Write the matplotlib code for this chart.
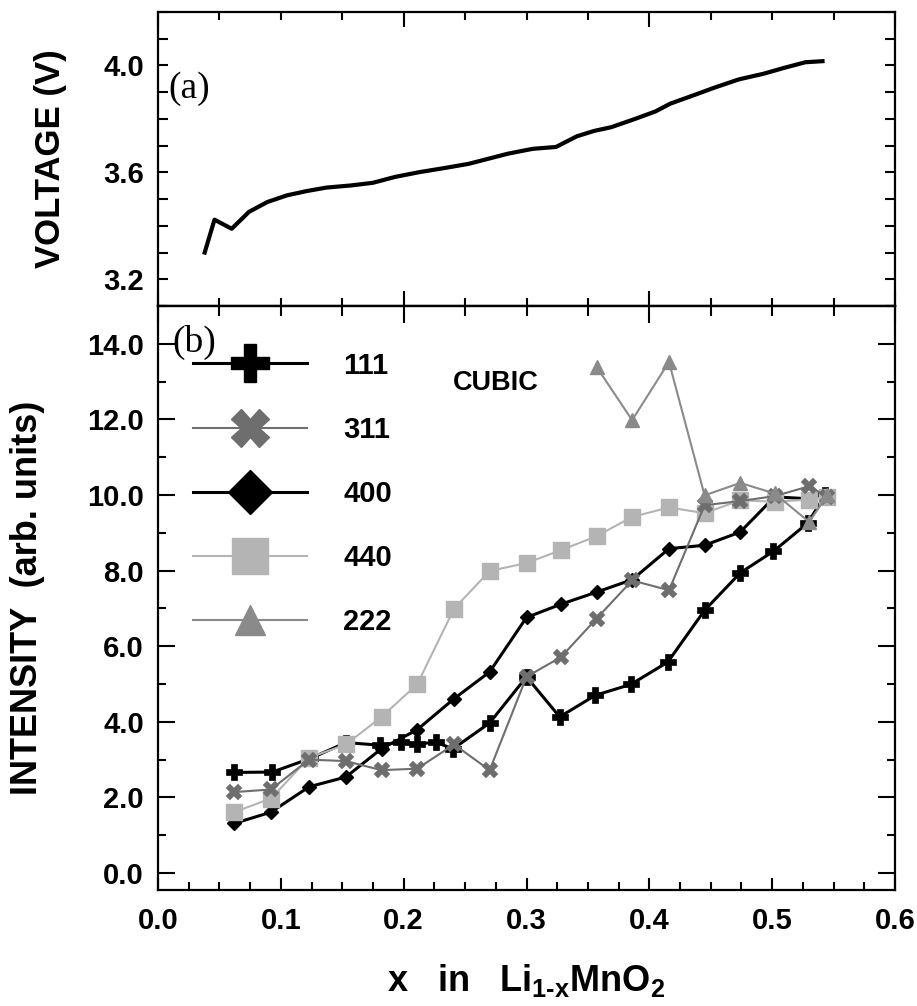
import matplotlib
matplotlib.use("Agg")
import matplotlib.pyplot as plt
from matplotlib.lines import Line2D
from matplotlib.ticker import MultipleLocator, FormatStrFormatter

plt.rcParams['font.family'] = ['Liberation Sans', 'DejaVu Sans']
plt.rcParams['font.weight'] = 'bold'
plt.rcParams['mathtext.fontset'] = 'custom'
plt.rcParams['mathtext.rm'] = 'Liberation Sans:bold'
plt.rcParams['mathtext.it'] = 'Liberation Sans:bold'
plt.rcParams['mathtext.bf'] = 'Liberation Sans:bold'

# ---- (a) cell voltage during delithiation ----
x_volt = [0.038, 0.046, 0.060, 0.074, 0.089, 0.105, 0.121, 0.137, 0.157, 0.175,
          0.193, 0.213, 0.233, 0.253, 0.269, 0.285, 0.305, 0.324, 0.341, 0.355,
          0.369, 0.389, 0.405, 0.417, 0.437, 0.453, 0.473, 0.493, 0.509, 0.527, 0.541]
voltage = [3.30, 3.423, 3.389, 3.452, 3.489, 3.514, 3.530, 3.543, 3.551, 3.561,
           3.583, 3.601, 3.616, 3.632, 3.651, 3.670, 3.688, 3.695, 3.735, 3.755,
           3.769, 3.801, 3.828, 3.857, 3.890, 3.917, 3.948, 3.969, 3.990, 4.012, 4.016]

# ---- (b) integrated intensities of the cubic reflections ----
x_111 = [0.062, 0.093, 0.124, 0.153, 0.181, 0.198, 0.211, 0.226, 0.240, 0.270,
         0.300, 0.327, 0.356, 0.385, 0.415, 0.445, 0.474, 0.501, 0.529, 0.543]
i_111 = [2.66, 2.67, 3.03, 3.45, 3.38, 3.47, 3.40, 3.47, 3.28, 3.97,
         5.19, 4.13, 4.70, 4.99, 5.58, 6.95, 7.94, 8.51, 9.26, 9.99]

x_scan = [0.062, 0.092, 0.123, 0.153, 0.182, 0.211, 0.241, 0.270, 0.300, 0.328,
          0.357, 0.386, 0.416, 0.445, 0.474, 0.502, 0.530, 0.545]
i_311 = [2.14, 2.21, 3.00, 2.96, 2.72, 2.76, 3.40, 2.72, 5.19, 5.71,
         6.73, 7.74, 7.48, 9.73, 9.84, 9.97, 10.23, 9.95]
i_400 = [1.31, 1.61, 2.28, 2.54, 3.29, 3.79, 4.61, 5.32, 6.76, 7.11,
         7.43, 7.76, 8.58, 8.67, 9.02, 9.95, 9.90, 10.0]
i_440 = [1.61, 1.97, 3.05, 3.40, 4.13, 4.99, 6.99, 7.99, 8.20, 8.54,
         8.91, 9.42, 9.67, 9.52, 9.86, 9.82, 9.88, 9.95]

x_222 = [0.357, 0.386, 0.416, 0.445, 0.474, 0.502, 0.530, 0.545]
i_222 = [13.39, 11.98, 13.52, 9.99, 10.32, 10.04, 9.29, 9.99]

labels = ['111', '311', '400', '440', '222']

c311 = '#6e6e6e'
c440 = '#b4b4b4'
c222 = '#8a8a8a'

TICK_FS = 21
W, H = 917, 1006
fig = plt.figure(figsize=(W / 100, H / 100), dpi=100)
left, right = 158 / W, 895 / W
ax_v = fig.add_axes([left, 1 - 306 / H, right - left, (306 - 12) / H])
ax_i = fig.add_axes([left, 1 - 890 / H, right - left, (890 - 306) / H])

for ax in (ax_v, ax_i):
    for s in ax.spines.values():
        s.set_linewidth(1.6)

# ---------- top panel ----------
ax_v.plot(x_volt, voltage, color='black', lw=3.0, solid_joinstyle='round')
ax_v.set_xlim(0, 0.6)
ax_v.set_ylim(3.1, 4.2)
ax_v.xaxis.set_major_locator(MultipleLocator(0.2))
ax_v.xaxis.set_minor_locator(MultipleLocator(0.05))
ax_v.yaxis.set_major_locator(MultipleLocator(0.4))
ax_v.yaxis.set_minor_locator(MultipleLocator(0.1))
ax_v.yaxis.set_major_formatter(FormatStrFormatter('%.1f'))
ax_v.tick_params(axis='x', which='both', direction='in', top=True, bottom=True,
                 labelbottom=False, width=1.5)
ax_v.tick_params(axis='x', which='major', length=11)
ax_v.tick_params(axis='x', which='minor', length=5.5)
ax_v.tick_params(axis='y', which='both', direction='in', left=True, right=True,
                 width=1.5, length=7, labelsize=TICK_FS, pad=10)
ax_v.set_ylabel('VOLTAGE (V)', fontsize=25, fontweight='bold')
ax_v.yaxis.set_label_coords(-0.124, 0.5)
ax_v.text(0.014, 0.74, '(a)', transform=ax_v.transAxes, fontsize=27,
          family='Liberation Serif', fontweight='normal', ha='left', va='center')

# ---------- bottom panel ----------
ax_i.plot(x_scan, i_400, color='black', lw=2.2, marker='D', ms=7.5,
          mfc='black', mec='black', zorder=3)
ax_i.plot(x_111, i_111, color='black', lw=2.2, marker='P', ms=11,
          mfc='black', mec='black', mew=0.5, zorder=4)
ax_i.plot(x_scan, i_440, color=c440, lw=1.5, marker='s', ms=12,
          mfc=c440, mec=c440, zorder=5)
ax_i.plot(x_scan, i_311, color=c311, lw=1.5, marker='X', ms=12,
          mfc=c311, mec=c311, mew=0.3, zorder=6)
ax_i.plot(x_222, i_222, color=c222, lw=1.5, marker='^', ms=10,
          mfc=c222, mec=c222, zorder=7)

ax_i.set_xlim(0, 0.6)
ax_i.set_ylim(-0.45, 15)
ax_i.xaxis.set_major_locator(MultipleLocator(0.1))
ax_i.xaxis.set_minor_locator(MultipleLocator(0.025))
ax_i.xaxis.set_major_formatter(FormatStrFormatter('%.1f'))
ax_i.yaxis.set_major_locator(MultipleLocator(2))
ax_i.yaxis.set_minor_locator(MultipleLocator(1))
ax_i.yaxis.set_major_formatter(FormatStrFormatter('%.1f'))
ax_i.tick_params(axis='x', which='both', direction='in', top=False, bottom=True,
                 width=1.5, labelsize=TICK_FS, pad=12)
ax_i.tick_params(axis='x', which='major', length=8.6)
ax_i.tick_params(axis='x', which='minor', length=5.8)
ax_i.tick_params(axis='y', which='both', direction='in', left=True, right=True,
                 width=1.5, labelsize=TICK_FS, pad=10)
ax_i.tick_params(axis='y', which='major', length=12)
ax_i.tick_params(axis='y', which='minor', length=6)

top = ax_i.secondary_xaxis('top')
top.xaxis.set_major_locator(MultipleLocator(0.2))
top.xaxis.set_minor_locator(MultipleLocator(0.05))
top.tick_params(axis='x', which='both', direction='in', width=1.5, labeltop=False)
top.tick_params(axis='x', which='major', length=12)
top.tick_params(axis='x', which='minor', length=7)
top.spines['top'].set_linewidth(1.6)

ax_i.set_ylabel('INTENSITY  (arb. units)', fontsize=26, fontweight='bold')
ax_i.yaxis.set_label_coords(-0.153, 0.5)
ax_i.set_xlabel(r'x   in   Li$_{\text{1-x}}$MnO$_{\text{2}}$', fontsize=26,
                fontweight='bold', labelpad=20)

ax_i.text(0.019, 0.938, '(b)', transform=ax_i.transAxes, fontsize=27,
          family='Liberation Serif', fontweight='normal', ha='left', va='center')
ax_i.text(0.24, 12.96, 'CUBIC', fontsize=19.5, fontweight='bold',
          ha='left', va='center')

handles = [
    Line2D([], [], color='black', lw=2.2, marker='P', ms=27, mfc='black', mec='black'),
    Line2D([], [], color=c311, lw=1.5, marker='X', ms=27, mfc=c311, mec=c311),
    Line2D([], [], color='black', lw=2.2, marker='D', ms=22, mfc='black', mec='black'),
    Line2D([], [], color=c440, lw=1.5, marker='s', ms=26, mfc=c440, mec=c440),
    Line2D([], [], color=c222, lw=1.5, marker='^', ms=22, mfc=c222, mec=c222),
]
ax_i.legend(handles, labels, loc='upper left', bbox_to_anchor=(0.048, 0.922),
            frameon=False, borderpad=0, borderaxespad=0, handlelength=3.9,
            handletextpad=1.23, labelspacing=1.24, numpoints=1,
            prop={'size': TICK_FS, 'weight': 'bold'})

fig.savefig('out.png', dpi=100)
